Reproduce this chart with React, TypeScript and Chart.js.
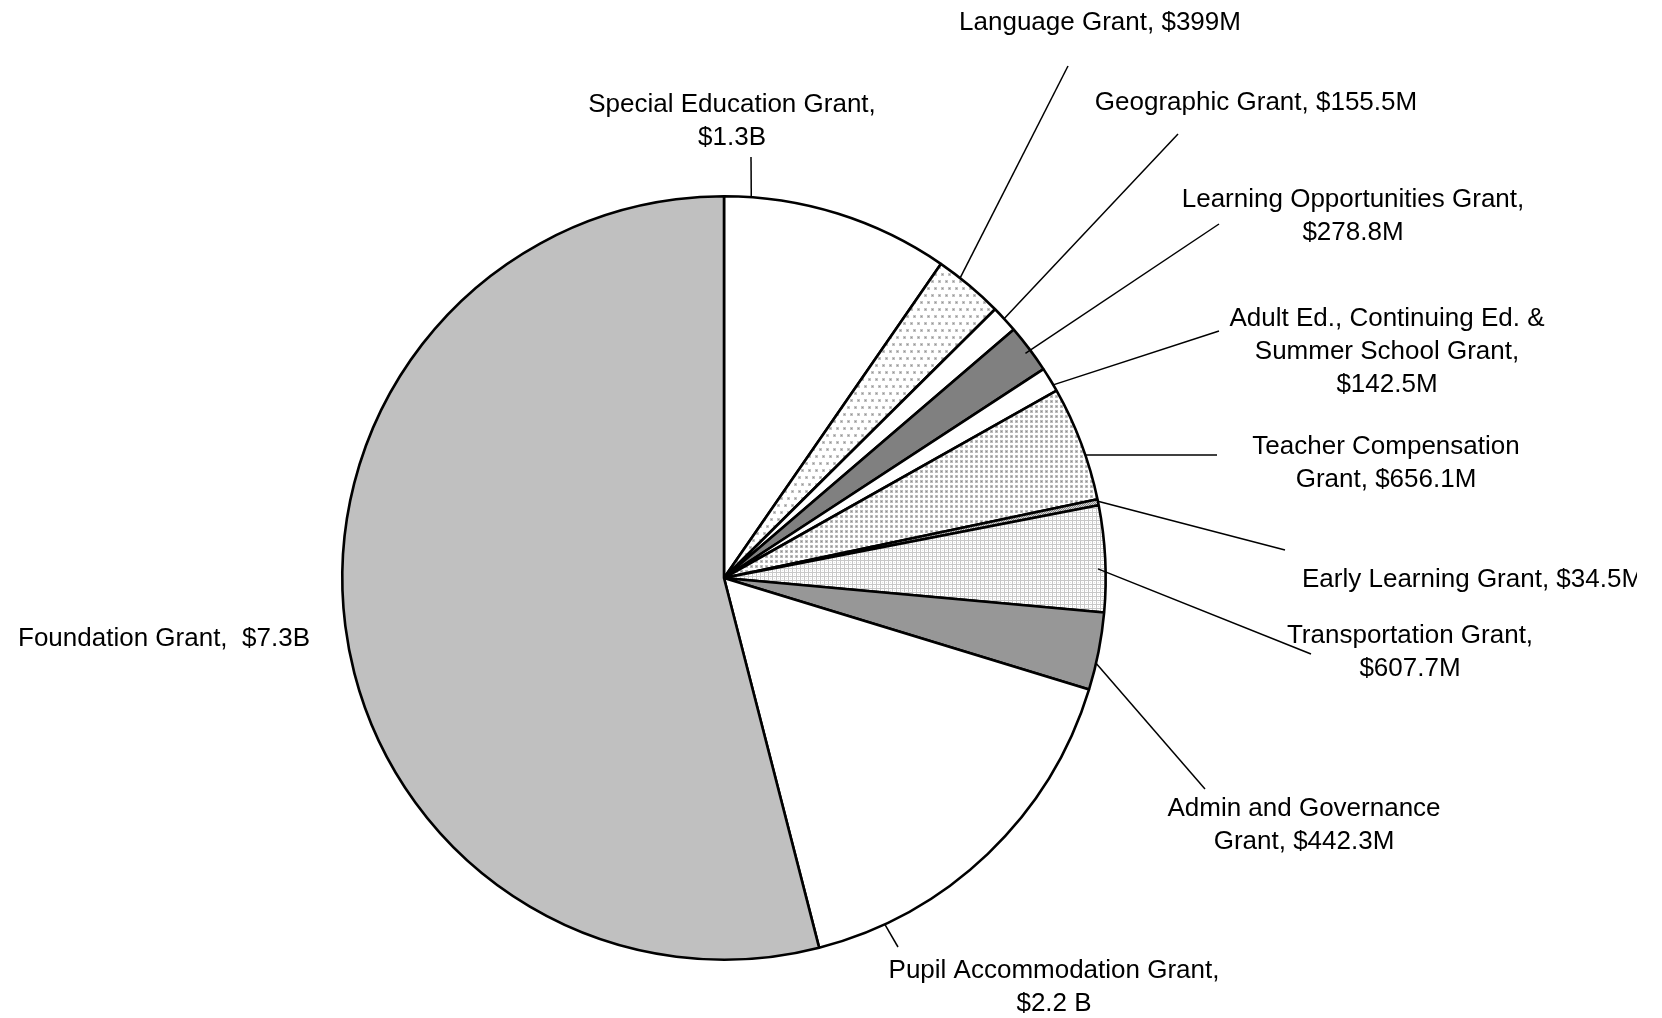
import React, { useEffect, useRef } from "react";
import { Chart, registerables } from "chart.js";

Chart.register(...registerables);

// ---- data ----
const categories = [
  "Special Education Grant",
  "Language Grant",
  "Geographic Grant",
  "Learning Opportunities Grant",
  "Adult Ed., Continuing Ed. & Summer School Grant",
  "Teacher Compensation Grant",
  "Early Learning Grant",
  "Transportation Grant",
  "Admin and Governance Grant",
  "Pupil Accommodation Grant",
  "Foundation Grant",
];
// values in $ millions
const valuesM = [1300, 399, 155.5, 278.8, 142.5, 656.1, 34.5, 607.7, 442.3, 2200, 7300];

const labelTexts: string[][] = [
  ["Special Education Grant,", "$1.3B"],
  ["Language Grant, $399M"],
  ["Geographic Grant, $155.5M"],
  ["Learning Opportunities Grant,", "$278.8M"],
  ["Adult Ed., Continuing Ed. &", "Summer School Grant,", "$142.5M"],
  ["Teacher Compensation", "Grant, $656.1M"],
  ["Early Learning Grant, $34.5M"],
  ["Transportation Grant,", "$607.7M"],
  ["Admin and Governance", "Grant, $442.3M"],
  ["Pupil Accommodation Grant,", "$2.2 B"],
  ["Foundation Grant,  $7.3B"],
];

// ---- label layout (text anchor, leader line start angle on the arc and end point) ----
type Layout = {
  x: number;
  y: number;
  align: CanvasTextAlign;
  leader?: { angle: number; rf: number; x: number; y: number };
};
const layouts: Layout[] = [
  { x: 732, y: 105, align: "center", leader: { angle: 4.1, rf: 1, x: 751, y: 157 } },
  { x: 1100, y: 23, align: "center", leader: { angle: 38.2, rf: 1, x: 1068, y: 66 } },
  { x: 1256, y: 103, align: "center", leader: { angle: 47.2, rf: 1, x: 1178, y: 134 } },
  { x: 1353, y: 200, align: "center", leader: { angle: 53.3, rf: 0.985, x: 1219, y: 224 } },
  { x: 1387, y: 319, align: "center", leader: { angle: 59.6, rf: 1, x: 1219, y: 331 } },
  { x: 1386, y: 447, align: "center", leader: { angle: 71.2, rf: 1, x: 1217, y: 455 } },
  { x: 1302, y: 580, align: "left", leader: { angle: 78.4, rf: 1, x: 1285, y: 550 } },
  { x: 1410, y: 636, align: "center", leader: { angle: 88.6, rf: 0.98, x: 1311, y: 654 } },
  { x: 1304, y: 809, align: "center", leader: { angle: 102.9, rf: 1, x: 1205, y: 789 } },
  { x: 1054, y: 971, align: "center", leader: { angle: 155.1, rf: 1, x: 898, y: 947 } },
  { x: 164, y: 639, align: "center" },
];

function makePattern(w: number, h: number, draw: (g: CanvasRenderingContext2D) => void) {
  const c = document.createElement("canvas");
  c.width = w;
  c.height = h;
  const g = c.getContext("2d")!;
  g.fillStyle = "#ffffff";
  g.fillRect(0, 0, w, h);
  draw(g);
  return g.createPattern(c, "repeat")!;
}

function buildFills(): (string | CanvasPattern)[] {
  const sparseDots = makePattern(7, 14, (g) => {
    g.fillStyle = "#c4c4c4";
    g.fillRect(0, 0, 3, 3);
    g.fillRect(3, 7, 3, 3);
    g.fillStyle = "#959595";
    g.fillRect(1, 1, 1, 1);
    g.fillRect(4, 8, 1, 1);
  });
  const denseDots = makePattern(5, 5, (g) => {
    g.fillStyle = "#bdbdbd";
    g.fillRect(0, 0, 3, 3);
    g.fillStyle = "#8e8e8e";
    g.fillRect(1, 1, 1, 1);
  });
  const mesh = makePattern(4, 4, (g) => {
    g.fillStyle = "#c8c8c8";
    g.fillRect(0, 0, 4, 4);
    g.fillStyle = "#ffffff";
    g.fillRect(1, 1, 3, 3);
    g.fillStyle = "#e2e2e2";
    g.fillRect(2, 2, 1, 1);
  });
  const fineGray = makePattern(2, 2, (g) => {
    g.fillStyle = "#8c8c8c";
    g.fillRect(0, 0, 1, 1);
    g.fillRect(1, 1, 1, 1);
    g.fillStyle = "#d8d8d8";
    g.fillRect(1, 0, 1, 1);
    g.fillRect(0, 1, 1, 1);
  });
  return [
    "#ffffff", // Special Education
    sparseDots, // Language
    "#ffffff", // Geographic
    "#808080", // Learning Opportunities
    "#ffffff", // Adult Ed
    denseDots, // Teacher Compensation
    fineGray, // Early Learning
    mesh, // Transportation
    "#979797", // Admin
    "#ffffff", // Pupil Accommodation
    "#c0c0c0", // Foundation
  ];
}

const FONT = '26px "Liberation Sans", Arial, Helvetica, sans-serif';
const LINE_H = 33;

const labelPlugin = {
  id: "externalLabels",
  afterDraw(chart: any) {
    const ctx: CanvasRenderingContext2D = chart.ctx;
    const meta = chart.getDatasetMeta(0);
    const arc = meta.data[0];
    if (!arc) return;
    const { x: cx, y: cy, outerRadius } = arc.getProps(["x", "y", "outerRadius"], true);
    ctx.save();
    ctx.beginPath();
    ctx.rect(0, 0, 1637, chart.height);
    ctx.clip();
    ctx.strokeStyle = "#000000";
    ctx.lineWidth = 1.5;
    layouts.forEach((l) => {
      if (!l.leader) return;
      const a = (l.leader.angle * Math.PI) / 180;
      const r = outerRadius * l.leader.rf;
      ctx.beginPath();
      ctx.moveTo(cx + r * Math.sin(a), cy - r * Math.cos(a));
      ctx.lineTo(l.leader.x, l.leader.y);
      ctx.stroke();
    });
    ctx.font = FONT;
    ctx.fillStyle = "#000000";
    ctx.textBaseline = "middle";
    labelTexts.forEach((lines, i) => {
      const l = layouts[i];
      ctx.textAlign = l.align;
      lines.forEach((line, j) => {
        ctx.fillText(line, l.x, l.y + j * LINE_H);
      });
    });
    ctx.restore();
  },
};

export default function App() {
  const ref = useRef<HTMLCanvasElement | null>(null);
  useEffect(() => {
    if (!ref.current) return;
    const chart = new Chart(ref.current, {
      type: "pie",
      data: {
        labels: categories,
        datasets: [
          {
            data: valuesM,
            backgroundColor: buildFills() as any,
            borderColor: "#000000",
            borderWidth: 2.6,
          },
        ],
      },
      options: {
        responsive: false,
        animation: false,
        layout: { padding: { left: 341, right: 555, top: 195, bottom: 57 } },
        plugins: {
          legend: { display: false },
          tooltip: { enabled: false },
        },
      },
      plugins: [labelPlugin],
    });
    return () => chart.destroy();
  }, []);
  return (
    <div style={{ position: "fixed", left: 0, top: 0, width: 1662, height: 1018, background: "#ffffff" }}>
      <canvas ref={ref} width={1662} height={1018} style={{ display: "block" }} />
    </div>
  );
}
